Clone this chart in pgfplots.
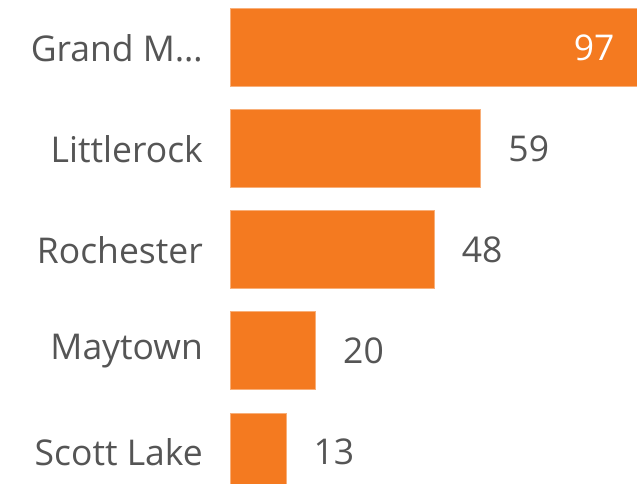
\documentclass[border=0pt]{standalone}
\usepackage{pgfplots}
\pgfplotsset{compat=1.18}
\usepackage{fontspec}
\setmainfont{Open Sans}
\definecolor{barorange}{RGB}{244,122,32}
\definecolor{txtgray}{RGB}{85,85,85}
\begin{document}
\begin{tikzpicture}
\begin{axis}[
  scale only axis,
  width=411pt, height=483pt,
  xbar, bar width=78pt, bar shift=0pt,
  xmin=0, xmax=97,
  ymin=-0.475, ymax=4.307,
  y dir=reverse,
  axis line style={draw=none},
  major tick length=0pt,
  xtick=\empty,
  ytick={0,1,2,3,4},
  yticklabels={{Grand M\ldots},Littlerock,Rochester,Maytown,Scott Lake},
  yticklabel style={font=\fontsize{35.5}{40}\selectfont, text=txtgray, anchor=east, inner sep=0pt, xshift=-28pt},
  /pgf/number format/assume math mode=true,
  clip=false,
]
\addplot[fill=barorange, draw=barorange!60, line width=1pt, bar shift=0pt,
  nodes near coords, point meta=explicit symbolic,
  every node near coord/.style={font=\fontsize{35.5}{40}\selectfont, text=txtgray, anchor=west, inner sep=0pt, xshift=27pt}]
  coordinates {(59,1)[59] (48,2)[48] (20,3)[20] (13,4)[13]};
\addplot[fill=barorange, draw=barorange!60, line width=1pt, bar shift=0pt,
  nodes near coords, point meta=explicit symbolic,
  every node near coord/.style={font=\fontsize{35.5}{40}\selectfont, text=white, anchor=east, inner sep=0pt, xshift=-27pt}]
  coordinates {(97,0)[97]};
\end{axis}
\pgfresetboundingbox
\path[use as bounding box] ([xshift=-231pt]current axis.south west) rectangle ([xshift=406pt]current axis.north west);
\end{tikzpicture}
\end{document}
